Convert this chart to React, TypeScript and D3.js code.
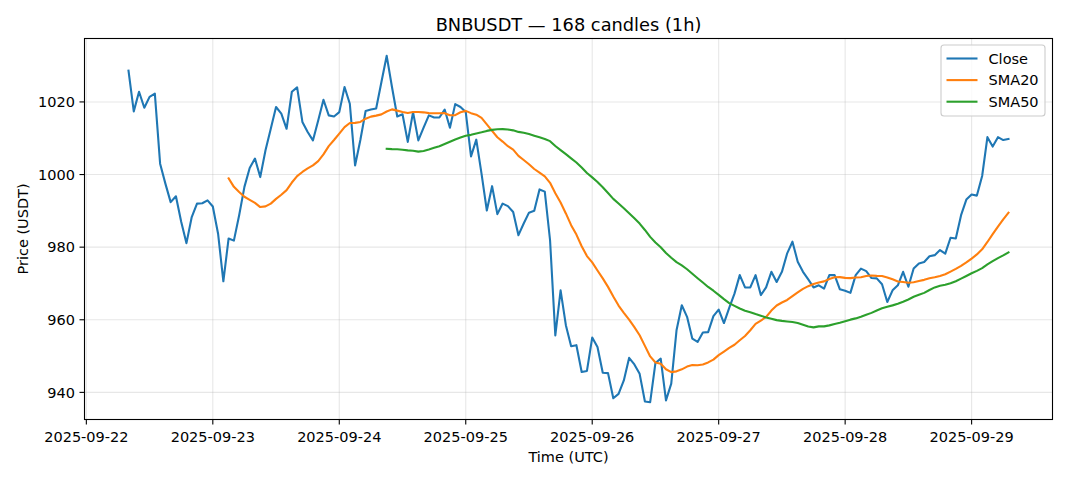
import React from "react";
import * as d3 from "d3";

const START_TIME = "2025-09-22T08:00:00Z";
const INTERVAL_HOURS = 1;

const closeValues: number[] = [
  1028.6, 1017.4, 1022.8, 1018.4, 1021.4, 1022.3, 1003.0, 997.5, 992.4, 994.0,
  987.0, 981.1, 988.3, 992.0, 992.1, 992.9, 991.2, 983.7, 970.6, 982.4,
  981.8, 988.8, 996.6, 1001.8, 1004.4, 999.3, 1006.7, 1012.6, 1018.6, 1016.8,
  1012.6, 1022.8, 1024.0, 1014.5, 1011.7, 1009.4, 1014.9, 1020.6, 1016.3, 1016.0,
  1017.2, 1024.1, 1019.5, 1002.5, 1009.5, 1017.5, 1017.9, 1018.2, 1025.5, 1032.7,
  1024.1, 1016.0, 1016.6, 1009.0, 1017.2, 1009.4, 1012.9, 1016.3, 1015.7, 1015.7,
  1017.9, 1012.9, 1019.4, 1018.6, 1017.2, 1005.0, 1009.6, 1000.2, 990.1, 996.8,
  989.1, 992.0, 991.3, 989.7, 983.3, 986.5, 989.5, 990.0, 995.9, 995.3,
  981.9, 955.7, 968.1, 958.5, 952.7, 953.0, 945.6, 945.9, 955.1, 952.5,
  945.4, 945.3, 938.4, 939.6, 943.3, 949.5, 947.7, 945.1, 937.5, 937.3,
  948.1, 949.3, 937.8, 942.4, 957.1, 964.0, 960.8, 954.8, 953.9, 956.5,
  956.6, 961.0, 962.8, 959.1, 963.3, 967.2, 972.3, 968.9, 968.9, 972.3,
  966.8, 968.9, 973.2, 970.4, 973.2, 978.3, 981.5, 976.0, 973.2, 971.1,
  968.9, 969.5, 968.6, 972.3, 972.3, 968.4, 968.0, 967.4, 972.3, 974.1,
  973.4, 971.5, 971.4, 969.8, 964.9, 968.1, 969.5, 973.2, 969.1, 974.1,
  975.5, 975.9, 977.5, 977.8, 979.2, 978.2, 982.6, 982.4, 988.8, 993.1,
  994.5, 994.2, 999.6, 1010.3, 1007.7, 1010.3, 1009.5, 1009.8,
];

const yTicks: number[] = [940, 960, 980, 1000, 1020];
const xTickLabels: string[] = [
  "2025-09-22", "2025-09-23", "2025-09-24", "2025-09-25",
  "2025-09-26", "2025-09-27", "2025-09-28", "2025-09-29",
];
const seriesNames: string[] = ["Close", "SMA20", "SMA50"];
const seriesColors: string[] = ["#1f77b4", "#ff7f0e", "#2ca02c"];
const smaWindows: number[] = [20, 50];

const TITLE = "BNBUSDT — 168 candles (1h)";
const X_LABEL = "Time (UTC)";
const Y_LABEL = "Price (USDT)";

function rollingMean(vals: number[], w: number): (number | null)[] {
  return vals.map((_, i) => {
    if (i < w - 1) return null;
    let s = 0;
    for (let k = i - w + 1; k <= i; k++) s += vals[k];
    return s / w;
  });
}

export default function App() {
  const W = 1068;
  const H = 481;
  const L = 84.5;
  const R = 1052.5;
  const T = 38.5;
  const B = 419.5;
  const font = "'DejaVu Sans', sans-serif";
  const fs = 14.5;

  const t0 = new Date(START_TIME).getTime();
  const times = closeValues.map((_, i) => new Date(t0 + i * INTERVAL_HOURS * 3600e3));
  const tMin = times[0].getTime();
  const tMax = times[times.length - 1].getTime();
  const tPad = (tMax - tMin) * 0.05;
  const x = d3.scaleUtc().domain([new Date(tMin - tPad), new Date(tMax + tPad)]).range([L, R]);

  const vMin = d3.min(closeValues) as number;
  const vMax = d3.max(closeValues) as number;
  const vPad = (vMax - vMin) * 0.05;
  const y = d3.scaleLinear().domain([vMin - vPad, vMax + vPad]).range([B, T]);

  const sma = smaWindows.map((w) => rollingMean(closeValues, w));
  const allSeries: (number | null)[][] = [closeValues, ...sma];

  const line = d3
    .line<number | null>()
    .defined((d) => d !== null)
    .x((_, i) => x(times[i]))
    .y((d) => y(d as number));

  const xTicks = xTickLabels.map((s) => new Date(s + "T00:00:00Z"));

  const legendX = 941;
  const legendY = 45;
  const rowH = 21.6;

  return (
    <svg
      width={W}
      height={H}
      style={{ position: "absolute", left: 0, top: 0, background: "#fff" }}
      fontFamily={font}
    >
      <rect x={0} y={0} width={W} height={H} fill="#fff" />
      {xTicks.map((d, i) => (
        <line key={"gx" + i} x1={x(d)} x2={x(d)} y1={T} y2={B} stroke="#b0b0b0" strokeOpacity={0.3} strokeWidth={1.1} />
      ))}
      {yTicks.map((v, i) => (
        <line key={"gy" + i} x1={L} x2={R} y1={y(v)} y2={y(v)} stroke="#b0b0b0" strokeOpacity={0.3} strokeWidth={1.1} />
      ))}
      <defs>
        <clipPath id="plotclip">
          <rect x={L} y={T} width={R - L} height={B - T} />
        </clipPath>
      </defs>
      <g clipPath="url(#plotclip)">
        {allSeries.map((s, k) => (
          <path
            key={"s" + k}
            d={line(s) || ""}
            fill="none"
            stroke={seriesColors[k]}
            strokeWidth={2.1}
            strokeLinejoin="round"
            strokeLinecap="square"
          />
        ))}
      </g>
      <rect x={L} y={T} width={R - L} height={B - T} fill="none" stroke="#000" strokeWidth={1.1} />
      {xTicks.map((d, i) => (
        <g key={"xt" + i}>
          <line x1={x(d)} x2={x(d)} y1={B} y2={B + 5} stroke="#000" strokeWidth={1.1} />
          <text x={x(d)} y={441.5} textAnchor="middle" fontSize={fs} fill="#000">
            {xTickLabels[i]}
          </text>
        </g>
      ))}
      {yTicks.map((v, i) => (
        <g key={"yt" + i}>
          <line x1={L - 5} x2={L} y1={y(v)} y2={y(v)} stroke="#000" strokeWidth={1.1} />
          <text x={L - 9.5} y={y(v)} dy="0.36em" textAnchor="end" fontSize={fs} fill="#000">
            {v}
          </text>
        </g>
      ))}
      <text x={(L + R) / 2} y={31} textAnchor="middle" fontSize={17.8} fill="#000">
        {TITLE}
      </text>
      <text x={(L + R) / 2} y={462} textAnchor="middle" fontSize={fs} fill="#000">
        {X_LABEL}
      </text>
      <text
        transform={`translate(27.5, ${(T + B) / 2}) rotate(-90)`}
        textAnchor="middle"
        fontSize={fs}
        fill="#000"
      >
        {Y_LABEL}
      </text>
      <rect
        x={legendX}
        y={legendY}
        width={104}
        height={71}
        rx={3}
        fill="#fff"
        fillOpacity={0.8}
        stroke="#cccccc"
        strokeWidth={1.1}
      />
      {seriesNames.map((n, k) => (
        <g key={"lg" + k}>
          <line
            x1={legendX + 5.5}
            x2={legendX + 36.5}
            y1={legendY + 13.5 + k * rowH}
            y2={legendY + 13.5 + k * rowH}
            stroke={seriesColors[k]}
            strokeWidth={2.1}
          />
          <text x={legendX + 47.5} y={legendY + 13.5 + k * rowH} dy="0.36em" fontSize={fs} fill="#000">
            {n}
          </text>
        </g>
      ))}
    </svg>
  );
}
